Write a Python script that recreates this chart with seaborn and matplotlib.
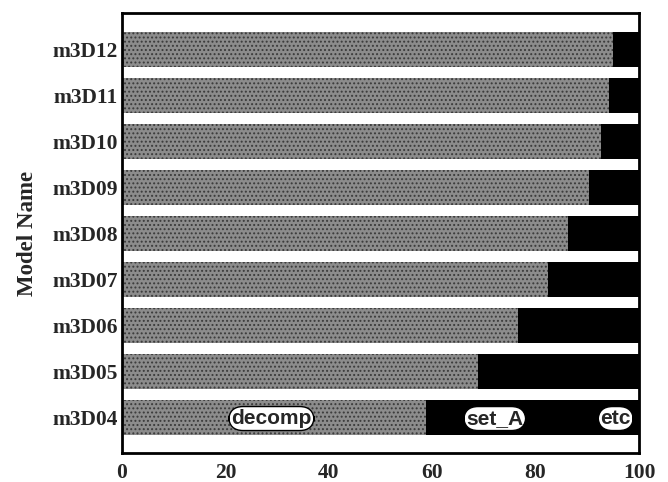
import matplotlib
matplotlib.use("Agg")
import matplotlib.pyplot as plt
import seaborn as sns
import numpy as np
import pandas as pd

models = ["m3D12", "m3D11", "m3D10", "m3D09", "m3D08", "m3D07", "m3D06", "m3D05", "m3D04"]
decomp = [94.9, 94.2, 92.7, 90.3, 86.3, 82.4, 76.6, 68.9, 58.8]
etc = [3.7, 3.8, 4.0, 4.5, 5.5, 6.5, 8.0, 10.0, 13.0]
set_A = [round(100 - d - e, 1) for d, e in zip(decomp, etc)]
x_ticks = [0, 20, 40, 60, 80, 100]

df = pd.DataFrame({"model": models, "decomp": decomp, "set_A": set_A, "etc": etc})
df["c1"] = df["decomp"]
df["c2"] = df["decomp"] + df["set_A"]
df["c3"] = df["c2"] + df["etc"]

sns.set_theme(style="white")
plt.rcParams["font.family"] = ["Liberation Serif", "DejaVu Serif"]
plt.rcParams["hatch.color"] = "#3a3a3a"
plt.rcParams["hatch.linewidth"] = 0.9

fig = plt.figure(figsize=(6.68, 4.82), dpi=100)
ax = fig.add_axes([0.1826, 0.0602, 0.7740, 0.9128])

bw = 0.76
sns.barplot(data=df, x="c3", y="model", order=models, orient="h", color="#000000",
            width=bw, ax=ax, saturation=1, edgecolor="none", linewidth=0)
sns.barplot(data=df, x="c2", y="model", order=models, orient="h", color="#000000",
            width=bw, ax=ax, saturation=1, edgecolor="none", linewidth=0)
n_before = len(ax.patches)
sns.barplot(data=df, x="c1", y="model", order=models, orient="h", color="#8c8c8c",
            width=bw, ax=ax, saturation=1, edgecolor="none", linewidth=0)
for p in ax.patches[n_before:]:
    p.set_hatch("....")
    p.set_edgecolor("#3a3a3a")
    p.set_linewidth(0)

ax.set_xlim(0, 100)
ax.set_ylim(len(models) - 1 + 0.78, -0.8)
ax.set_xticks(x_ticks)
ax.set_xticklabels([str(t) for t in x_ticks], fontsize=15.5, fontweight="bold")
ax.set_yticks(range(len(models)))
ax.set_yticklabels(models, fontsize=15.5, fontweight="bold")
ax.set_xlabel("")
ax.set_ylabel("Model Name", fontsize=16.5, fontweight="bold", labelpad=10)
ax.tick_params(axis="x", direction="in", length=6, width=1.5, color="black", pad=7)
ax.tick_params(axis="y", length=0, pad=3)
for s in ax.spines.values():
    s.set_visible(True)
    s.set_color("black")
    s.set_linewidth(2)

bot = len(models) - 1
box = dict(boxstyle="round,pad=0.12,rounding_size=0.7", facecolor="white", edgecolor="black", linewidth=1)
lab_font = ["Liberation Sans", "DejaVu Sans"]
ax.text(decomp[-1] / 2 - 0.5, bot + 0.03, "decomp", ha="center", va="center", fontsize=15,
        fontweight="bold", family=lab_font, bbox=box)
ax.text(decomp[-1] + set_A[-1] / 2 - 0.8, bot + 0.03, "set_A", ha="center", va="center", fontsize=15,
        fontweight="bold", family=lab_font, bbox=box)
ax.text(95.5, bot + 0.03, "etc", ha="center", va="center", fontsize=15,
        fontweight="bold", family=lab_font, bbox=box)

fig.savefig("out.png", dpi=100)
